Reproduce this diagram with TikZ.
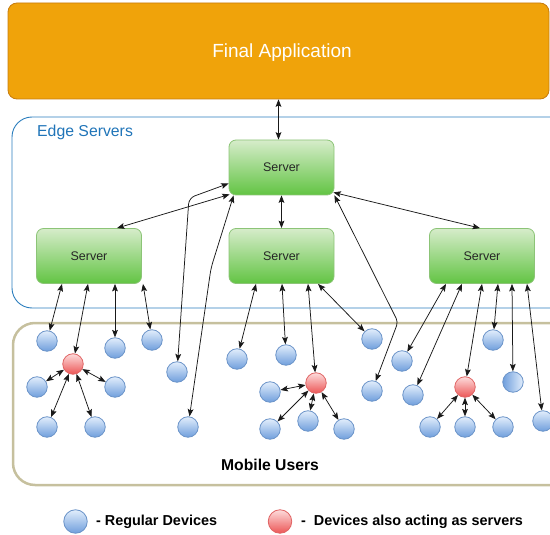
\documentclass[tikz,border=0pt]{standalone}
\usepackage{fontspec}
\setmainfont{Liberation Sans}
\usetikzlibrary{arrows.meta,calc}
\definecolor{faFill}{HTML}{F0A30A}
\definecolor{faLine}{HTML}{C77C0E}
\definecolor{edgeLine}{HTML}{2A7DBD}
\definecolor{edgeText}{HTML}{1F74B8}
\definecolor{mobLine}{HTML}{C6C09E}
\definecolor{srvTop}{HTML}{D6ECCA}
\definecolor{srvBot}{HTML}{62C443}
\definecolor{srvLine}{HTML}{8CC477}
\definecolor{devTop}{HTML}{E2EEFC}
\definecolor{devBot}{HTML}{6F9EDC}
\definecolor{devLine}{HTML}{6A93C8}
\definecolor{hubTop}{HTML}{FDDCDC}
\definecolor{hubBot}{HTML}{EC5656}
\definecolor{hubLine}{HTML}{E06464}
\begin{document}
\begin{tikzpicture}[x=1pt,y=-1pt,
  dev/.style={circle,draw=devLine,line width=0.8pt,minimum size=20.5pt,inner sep=0pt,top color=devTop,bottom color=devBot},
  devh/.style={circle,draw=devLine,line width=0.8pt,minimum size=20.5pt,inner sep=0pt,left color=devBot,right color=devTop},
  hub/.style={circle,draw=hubLine,line width=0.8pt,minimum size=20.5pt,inner sep=0pt,top color=hubTop,bottom color=hubBot},
  srv/.style={rectangle,rounded corners=7pt,draw=srvLine,line width=0.8pt,top color=srvTop,bottom color=srvBot,minimum width=105pt,minimum height=55pt,text=black!85,font=\fontsize{12.5}{14}\selectfont},
  link/.style={{Stealth[length=7.5pt,width=5.8pt,inset=1.5pt]}-{Stealth[length=7.5pt,width=5.8pt,inset=1.5pt]},line width=0.75pt,black!90},
  lgtext/.style={anchor=west,inner sep=0pt,font=\fontsize{14.4}{16}\selectfont\bfseries}]
\useasboundingbox (0,0) rectangle (550,535);
\begin{scope}
\clip (0,0) rectangle (550,535);
% containers
\node[rectangle,rounded corners=9pt,draw=faLine,line width=0.8pt,fill=faFill,minimum width=541pt,minimum height=96pt] (fa) at (278.5,51) {};
\node[text=white,font=\fontsize{19}{22}\selectfont,inner sep=0pt] (fatext) at (282,52.5) {Final Application};
\draw[edgeLine,line width=0.9pt,rounded corners=20pt] (12,117) rectangle (574,308);
\node[anchor=west,inner sep=0pt,text=edgeText,font=\fontsize{15.8}{18}\selectfont] (edgelbl) at (37,132) {Edge Servers};
\draw[mobLine,line width=2.5pt,rounded corners=22pt] (13,323) rectangle (576,485);
\node[font=\fontsize{15.7}{18}\selectfont\bfseries] (moblbl) at (270,464.5) {Mobile Users};
% servers
\node[srv] (sT) at (281.5,167.5) {Server};
\node[srv] (sL) at (89,256) {Server};
\node[srv] (sM) at (281.5,256) {Server};
\node[srv] (sR) at (482,256) {Server};
% left group
\node[dev] (a1) at (47,341) {};
\node[dev] (a2) at (115,348) {};
\node[dev] (a3) at (152,340) {};
\node[hub] (ah) at (73,364) {};
\node[dev] (a4) at (37,387) {};
\node[dev] (a5) at (115,387) {};
\node[dev] (a6) at (47,427) {};
\node[dev] (a7) at (95,427) {};
\node[dev] (b1) at (177,372) {};
\node[dev] (b2) at (188,427) {};
% middle group
\node[dev] (m1) at (237,359) {};
\node[dev] (m2) at (286,355) {};
\node[hub] (mh) at (316,383) {};
\node[dev] (m3) at (270,392) {};
\node[dev] (m4) at (308,421) {};
\node[dev] (m5) at (270,429) {};
\node[dev] (m6) at (344,429) {};
\node[dev] (m7) at (372,339) {};
\node[dev] (m8) at (372,391) {};
% right group
\node[dev] (r1) at (402,361) {};
\node[dev] (r2) at (413,395) {};
\node[dev] (r3) at (493,340) {};
\node[devh] (r4) at (513,382) {};
\node[hub] (rh) at (465,387) {};
\node[dev] (r5) at (430,427) {};
\node[dev] (r6) at (465,427) {};
\node[dev] (r7) at (503,427) {};
\node[dev] (r8) at (543,421) {};
% bend points
\coordinate (k1) at (189,198);
\coordinate (k2) at (211,268);
\coordinate (k3) at (398,322);
% top links
\draw[link] (fa.south) -- (fa.south |- sT.north);
\draw[link] (sT.south) -- (sM.north);
\draw[link] ([xshift=1pt,yshift=1pt]sT.south west) -- ([xshift=28pt]sL.north);
\draw[link] ([xshift=-1pt,yshift=3pt]sT.south east) -- ([xshift=-2pt]sR.north);
\draw[link,rounded corners=6pt] ([yshift=-16pt]sT.west) -- (k1) -- (b1);
\draw[link,rounded corners=6pt] ([xshift=5pt]sT.south west) -- (k2) -- (b2);
\draw[link,rounded corners=4pt] ([xshift=0pt]sT.south east) -- (k3) -- (m8);
% left server links
\draw[link] ([xshift=-27pt]sL.south) -- (a1);
\draw[link] ([xshift=-1pt]sL.south) -- (ah);
\draw[link] ([xshift=26pt]sL.south) -- (a2);
\draw[link] ([xshift=54pt]sL.south) -- (a3);
\draw[link] (ah) -- (a4);
\draw[link] (ah) -- (a5);
\draw[link] (ah) -- (a6);
\draw[link] (ah) -- (a7);
% middle server links
\draw[link] ([xshift=-25.5pt]sM.south) -- (m1);
\draw[link] ([xshift=0.5pt]sM.south) -- (m2);
\draw[link] ([xshift=26.5pt]sM.south) -- (mh);
\draw[link] ([xshift=36.5pt]sM.south) -- (m7);
\draw[link] (mh) -- (m3);
\draw[link] (mh) -- (m4);
\draw[link] (mh) -- (m5);
\draw[link] (mh) -- (m6);
% right server links
\draw[link] ([xshift=-36pt]sR.south) -- (r1);
\draw[link] ([xshift=-20pt]sR.south) -- (r2);
\draw[link] ([xshift=0pt]sR.south) -- (rh);
\draw[link] ([xshift=16pt]sR.south) -- (r3);
\draw[link] ([xshift=30pt]sR.south) -- (r4);
\draw[link] ([xshift=45pt]sR.south) -- (r8);
\draw[link] (rh) -- (r5);
\draw[link] (rh) -- (r6);
\draw[link] (rh) -- (r7);
% legend
\node[dev,minimum size=23.5pt] (lgd) at (75.5,521.5) {};
\node[lgtext] (lgdt) at (96,522) {- Regular Devices};
\node[hub,minimum size=23.5pt] (lgh) at (280,521.5) {};
\node[lgtext] (lght) at (301,522) {-\ \ Devices also acting as servers};
\end{scope}
\end{tikzpicture}
\end{document}
